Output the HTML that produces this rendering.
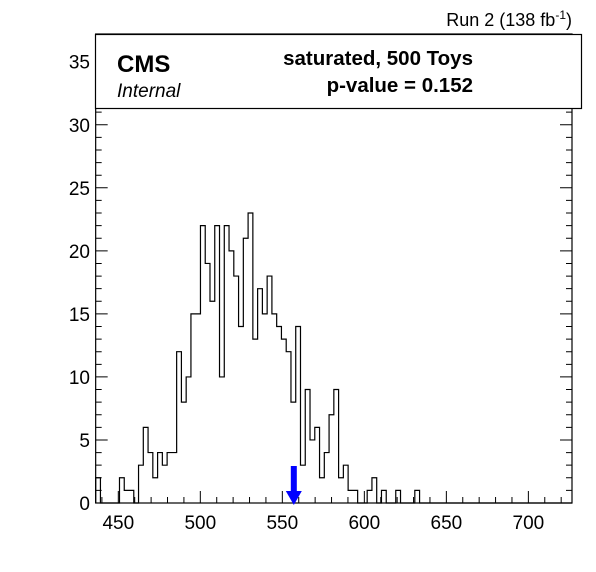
<!DOCTYPE html>
<html><head><meta charset="utf-8"><style>
html,body{margin:0;padding:0;background:#fff;}
svg{display:block;font-family:"Liberation Sans",Arial,sans-serif;}
</style></head><body>
<svg id="chart" width="596" height="572" viewBox="0 0 596 572">
<rect x="0" y="0" width="596" height="572" fill="#fff"/>
<g id="axes"></g>
<path id="hist" fill="none" stroke="#000" stroke-width="1.2"/>
<g id="arrow"></g>
<rect x="95.5" y="34.5" width="486" height="74" fill="#fff" stroke="#000" stroke-width="1.2"/>
<text x="117" y="72" font-size="24" font-weight="bold">CMS</text>
<text x="117" y="97" font-size="19" font-style="italic">Internal</text>
<text x="473" y="65" font-size="20.5" font-weight="bold" text-anchor="end">saturated, 500 Toys</text>
<text x="473" y="92" font-size="20.5" font-weight="bold" text-anchor="end">p-value = 0.152</text>
<text x="572" y="26" font-size="18" text-anchor="end">Run 2 (138 fb<tspan dy="-7" font-size="12">-1</tspan><tspan dy="7">)</tspan></text>
</svg>
<script>
const counts=[2,0,0,0,0,2,1,1,0,3,6,4,2,4,3,4,4,12,8,10,15,15,22,19,16,22,10,22,20,18,14,21,23,13,17,15,18,15,14,13,12,8,14,3,9,5,6,2,4,7,9,2,3,1,1,0,0,1,2,0,1,0,0,1,0,0,0,1,0,0,0,0,0,0,0,0,0,0,0,0,0,0,0,0,0,0,0,0,0,0,0,0,0,0,0,0,0,0,0,0];
const xTicks=[450,500,550,600,650,700];
const yTicks=[0,5,10,15,20,25,30,35];
const observed=[557];
const xMin=436.2, xMax=726.6, yMin=0, yMax=37.2;
const L=95.67,R=572,T=34,B=503;
const sx=v=>L+(v-xMin)/(xMax-xMin)*(R-L);
const sy=v=>B-(v-yMin)/(yMax-yMin)*(B-T);
const NS="http://www.w3.org/2000/svg";
const axes=document.getElementById('axes');
function mk(tag,attrs,parent){const e=document.createElementNS(NS,tag);for(const k in attrs)e.setAttribute(k,attrs[k]);parent.appendChild(e);return e;}
const frame=mk('rect',{x:L,y:T,width:R-L,height:B-T,fill:'none',stroke:'#000','stroke-width':1.2},axes);


let d='';
for(let v=0;v<=37;v++){const y=sy(v);const len=v%5===0?12:6;d+=`M${L},${y}h${len}M${R},${y}h${-len}`;}
for(let v=440;v<=720;v+=10){const x=sx(v);const len=v%50===0?12:6;d+=`M${x},${B}v${-len}`;}
const ticks=mk('path',{d:d,stroke:'#000','stroke-width':1,fill:'none'},axes);


yTicks.forEach(v=>{const t=mk('text',{x:90,y:sy(v)+7,'font-size':19,'text-anchor':'end'},axes);t.textContent=v;

});
xTicks.forEach(v=>{const t=mk('text',{x:sx(v),y:529,'font-size':19,'text-anchor':'middle'},axes);t.textContent=v;

});
const bw=(xMax-xMin)/counts.length;
let p=`M${L},${B}`;
counts.forEach((c,i)=>{const x0=sx(xMin+i*bw),x1=sx(xMin+(i+1)*bw),y=sy(c);p+=`L${x0},${y}L${x1},${y}`;});
p+=`L${R},${B}`;
document.getElementById('hist').setAttribute('d',p);
const ag=document.getElementById('arrow');
observed.forEach(v=>{const x=sx(v);
const s=mk('rect',{x:x-3,y:466,width:6,height:27,fill:'#0000ff'},ag);


const h=mk('polygon',{points:`${x-8},491 ${x+8},491 ${x},505`,fill:'#0000ff'},ag);

});
</script>
</body></html>
